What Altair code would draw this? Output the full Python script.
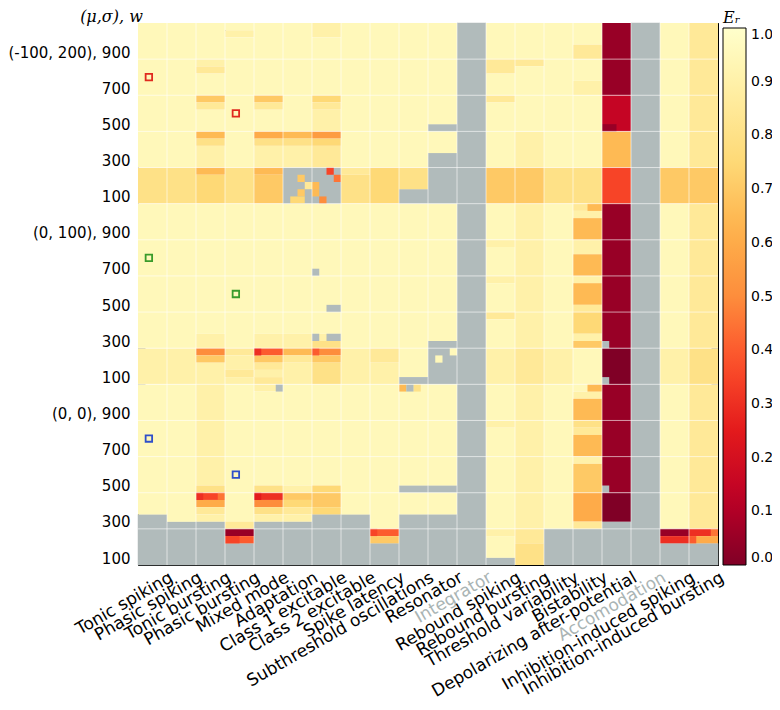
import json
import altair as alt
import pandas as pd

# ---------------- data ----------------
BEHAVIORS = ["Tonic spiking", "Phasic spiking", "Tonic bursting", "Phasic bursting",
             "Mixed mode", "Adaptation", "Class 1 excitable", "Class 2 excitable",
             "Spike latency", "Subthreshold oscillations", "Resonator", "Integrator",
             "Rebound spiking", "Rebound bursting", "Threshold variability", "Bistability",
             "Depolarizing after-potential", "Accomodation", "Inhibition-induced spiking",
             "Inhibition-induced bursting"]
MUTED_BEHAVIORS = ["Integrator", "Accomodation"]
GROUPS = ["(-100, 200)", "(0, 100)", "(0, 0)"]          # top to bottom
W_TICKS = [100, 300, 500, 700, 900]
SUBCOLS = 4      # sub-columns per behaviour
SUBROWS = 25     # sub-rows per (mu, sigma) group

# E_r levels: a=0.00, b=0.05, ... u=1.00 ; '.' = no value (grey)
CODES = "abcdefghijklmnopqrstu"

# one string per behaviour: three groups of 25 sub-rows (top to bottom)
PROFILES = [
    "ttttttttttttttttttttqqqqq|ttttttttttttttttttttsssss|tttttttttttttttttt.......",
    "ttttttttttttttttttttqqqqq|ttttttttttttttttttttsssss|ttttttttttttttttttt......",
    "tttttsrtttortttnqsssnpppp|ttttttttttttttttttsskosss|ssssssssssssssqhmrs......",
    "tsttttttttttttttttttqqqqq|ttttttttttttttttttttrssrs|tttttttttttttttttttrbi...",
    "ttttttttttortttmqsssnoooo|ttttttttttttttttttssiorsr|stttttttttttttqgkqs......",
    "tttttttttttttttnqsss.....|ttttttttttttttttttssnrsss|ttttttttttttttsoprs......",
    "ssttttttttprssslprrr.....|ttttttttttttttttttsqkoqqq|ttttttttttttttpoop.......",
    "ttttttttttttttttttttrqqqq|ttttttttttttttttttttsssss|tttttttttttttttttt.......",
    "ttttttttttttttttttttppppp|ttttttttttttttttttttrrsss|ttttttttttttttttttttio...",
    "ttttttttttttttttttttqqq..|tttttttttttttttttttttttt.|tttttttttttttt.ttt.......",
    "tttttttttttttt.ttt.......|ttttttttttttttttttt......|tttttttttttttt.ttt.......",
    ".........................|.........................|.........................",
    "tttttrrtttrtttttttttooooo|tttttsttttsttttrttttsssss|tttttsttttttttttttttsttt.",
    "tttttrtttttttttsssssooooo|ssssssssssssssssssssrrrrr|ssssssssssssssssssssrrqqq",
    "ttttttttttttttttttttqqqqq|ttttttttttttttttttttsssss|tttttttttttttttttttt.....",
    "tttrrtttssttttttttttqqqqq|rsnnnssnnnsnnnrpppsottttt|tsnnnqrnnnsoooommmmr.....",
    "bbbbbbbbbbdddddnnnnnhhhhh|bbbbbbbbbbbbbbbbbbbbaaaaa|bbbbbbbbbbbbbbbaaaa......",
    ".........................|.........................|.........................",
    "ttttttttttttttttttttooooo|ttttttttttttttttttttsssss|ttttttttttttttttttttbg...",
    "rrrrrrrrrrrrrrrrrrrrooooo|rrrrrrrrrrrrrrrrrrrrqqqqq|rrrrrrrrrrrrrrrrrrrrgm...",
]

# single sub-cells that differ from their row: (behaviour, sub-column, sub-row from top, level)
EXCEPTIONS = [
    (5, 2, 21, "o"), (5, 3, 22, "r"), (5, 2, 23, "o"), (5, 1, 24, "p"), (5, 2, 24, "p"),
    (6, 2, 20, "h"), (6, 3, 21, "j"), (6, 0, 22, "n"), (6, 0, 23, "n"), (6, 1, 24, "k"),
    (6, 0, 34, "."), (6, 2, 39, "."), (6, 3, 39, "."),
    (6, 0, 43, "."), (6, 2, 43, "."), (6, 3, 43, "."), (6, 0, 45, "i"),
    (4, 0, 45, "g"), (4, 3, 50, "."), (4, 0, 65, "f"),
    (2, 0, 65, "g"), (2, 3, 65, "j"),
    (9, 0, 50, "n"), (9, 1, 50, "."), (9, 2, 50, "q"),
    (10, 3, 45, "t"), (10, 1, 46, "t"),
    (15, 2, 25, "n"), (15, 3, 25, "n"), (15, 2, 50, "n"), (15, 3, 50, "n"),
    (16, 0, 14, "b"), (16, 1, 14, "b"), (16, 0, 44, "."), (16, 0, 49, "."), (16, 0, 64, "."),
    (19, 3, 70, "j"), (19, 0, 71, "i"),
    (3, 0, 71, "h"), (3, 1, 71, "h"),
    (8, 0, 70, "h"),
]

# open squares: (colour, behaviour, sub-column, sub-row from top)
MARKERS = [
    ("#e02a1f", 0, 1, 7), ("#e02a1f", 3, 1, 12),
    ("#3a9b2b", 0, 1, 32), ("#3a9b2b", 3, 1, 37),
    ("#2f4fc9", 0, 1, 57), ("#2f4fc9", 3, 1, 62),
]

YLORRD_R = ["#800026", "#bd0026", "#e31a1c", "#fc4e2a", "#fd8d3c",
            "#feb24c", "#fed976", "#ffeda0", "#ffffcc"]
GREY = "#b1bbbb"
MUTED_LABEL = "#a9b4b4"
COLORBAR_TICKS = [0.0, 0.1, 0.2, 0.3, 0.4, 0.5, 0.6, 0.7, 0.8, 0.9, 1.0]

# ---------------- build tables ----------------
NROWS = SUBROWS * len(GROUPS)
NCOLS = SUBCOLS * len(BEHAVIORS)


def level(c):
    return None if c == "." else CODES.index(c) * 0.05


bad = [(i, [len(s) for s in p.split("|")]) for i, p in enumerate(PROFILES)
       if [len(s) for s in p.split("|")] != [SUBROWS] * 3]
assert not bad, bad

base_cells, exc_cells = [], []


def cell(xa, xb, r_top, r_bottom, c, kind):
    # rows r_top..r_bottom (inclusive, counted from the top)
    return dict(x0=xa, x1=xb, y0=NROWS - 1 - r_bottom, y1=NROWS - r_top, v=level(c), kind=kind)


# base: whole-behaviour runs of identical sub-rows
for b, prof in enumerate(PROFILES):
    s = prof.replace("|", "")
    start = 0
    for r in range(1, len(s) + 1):
        if r == len(s) or s[r] != s[start]:
            base_cells.append(cell(b * SUBCOLS, (b + 1) * SUBCOLS, start, r - 1, s[start], "base"))
            start = r

# overlay: differing sub-cells, neighbours of equal level joined
exc = {}
for b, sc, r, c in EXCEPTIONS:
    exc.setdefault((b, r), {})[sc] = c
for (b, r), subs in exc.items():
    scs = sorted(subs)
    i = 0
    while i < len(scs):
        j = i
        while j + 1 < len(scs) and scs[j + 1] == scs[j] + 1 and subs[scs[j + 1]] == subs[scs[i]]:
            j += 1
        exc_cells.append(cell(b * SUBCOLS + scs[i], b * SUBCOLS + scs[j] + 1, r, r,
                              subs[scs[i]], "exc"))
        i = j + 1

df = pd.DataFrame(base_cells + exc_cells)   # base first, overlay drawn after it

marks = pd.DataFrame([dict(col=col, mx=b * SUBCOLS + sc + 0.5, my=NROWS - 1 - r + 0.5)
                      for col, b, sc, r in MARKERS])

X_TICKS = [SUBCOLS * (i + 1) for i in range(len(BEHAVIORS))]
Y_STEP = SUBROWS * 200 // 1000
Y_TICKS = list(range(0, NROWS, Y_STEP))
y_labels = []
for g in reversed(GROUPS):
    for w in W_TICKS:
        y_labels.append(f"{g}, {w}" if w == W_TICKS[-1] else str(w))

x_label_expr = json.dumps(BEHAVIORS) + f"[datum.value/{SUBCOLS}-1]"
y_label_expr = json.dumps(y_labels) + f"[datum.value/{Y_STEP}]"
muted_test = " || ".join(f"datum.value == {SUBCOLS * (BEHAVIORS.index(m) + 1)}"
                         for m in MUTED_BEHAVIORS)

xscale = alt.Scale(domain=[0, NCOLS], nice=False, zero=False)
yscale = alt.Scale(domain=[0, NROWS], nice=False, zero=False)
n = len(YLORRD_R)
cscale = alt.Scale(domain=[i / (n - 1) for i in range(n)], range=YLORRD_R, interpolate="rgb")

x_axis = alt.Axis(values=X_TICKS, labelExpr=x_label_expr, labelAngle=-30, labelAlign="right",
                  labelBaseline="top", labelFontSize=17, labelPadding=4, labelLimit=400,
                  labelOverlap=False, labelFlush=False, tickSize=7, offset=-7, domain=False,
                  grid=False, title=None,
                  labelColor={"condition": {"test": muted_test, "value": MUTED_LABEL},
                              "value": "black"})
y_axis = alt.Axis(values=Y_TICKS, labelExpr=y_label_expr, labelFontSize=15,
                  labelBaseline="alphabetic", labelOffset=-2, labelPadding=8,
                  labelLimit=300, labelOverlap=False, labelFlush=False, tickSize=7,
                  offset=-7, domain=False, grid=False,
                  title="(μ,σ), w", titleAngle=0, titleX=-34, titleY=-2,
                  titleAlign="center", titleBaseline="alphabetic", titleFont="DejaVu Serif",
                  titleFontStyle="italic", titleFontSize=16, titleFontWeight="normal",
                  titleColor="black")

valid = "isValid(datum.v)"

grey_base = alt.Chart(df).transform_filter(f"!{valid} && datum.kind == 'base'").mark_rect(
    color=GREY, stroke=GREY, strokeWidth=0.5).encode(
    x=alt.X("x0:Q", scale=xscale, axis=None), x2="x1:Q",
    y=alt.Y("y0:Q", scale=yscale, axis=None), y2="y1:Q",
)

heat = alt.Chart(df).transform_filter(valid).mark_rect().encode(
    x=alt.X("x0:Q", scale=xscale, axis=x_axis),
    x2="x1:Q",
    y=alt.Y("y0:Q", scale=yscale, axis=y_axis),
    y2="y1:Q",
    color=alt.Color("v:Q", scale=cscale, legend=alt.Legend(
        title="Eᵣ", orient="none", legendX=585, legendY=-13,
        direction="vertical", gradientLength=537, gradientThickness=23,
        values=COLORBAR_TICKS, format=".1f",
        labelFontSize=14, labelFont="DejaVu Sans", labelOffset=5, labelColor="black",
        labelBaseline="middle",
        titleFont="DejaVu Serif", titleFontStyle="italic", titleFontWeight="normal",
        titleFontSize=16, titlePadding=2, titleColor="black",
        gradientStrokeColor="black", gradientStrokeWidth=1)),
)

grey_exc = alt.Chart(df).transform_filter(f"!{valid} && datum.kind == 'exc'").mark_rect(
    color=GREY).encode(
    x=alt.X("x0:Q", scale=xscale, axis=None), x2="x1:Q",
    y=alt.Y("y0:Q", scale=yscale, axis=None), y2="y1:Q",
)

vgrid = alt.Chart(pd.DataFrame({"t": X_TICKS[:-1]})).mark_rule(
    color="white", opacity=0.6, strokeWidth=1).encode(
    x=alt.X("t:Q", scale=xscale, axis=alt.Axis(orient="top", values=X_TICKS, labels=False,
                                                tickSize=7, offset=-7, domain=False,
                                                grid=False, title=None)))
hgrid = alt.Chart(pd.DataFrame({"t": Y_TICKS[1:]})).mark_rule(
    color="white", opacity=0.6, strokeWidth=1).encode(
    y=alt.Y("t:Q", scale=yscale, axis=alt.Axis(orient="right", values=Y_TICKS, labels=False,
                                                tickSize=7, offset=-7, domain=False,
                                                grid=False, title=None)))

marker_layers = []
for col in dict.fromkeys(marks["col"]):
    marker_layers.append(
        alt.Chart(marks[marks["col"] == col]).mark_square(
            filled=False, size=42, strokeWidth=1.8, color=col, opacity=1).encode(
            x=alt.X("mx:Q", scale=xscale, axis=None),
            y=alt.Y("my:Q", scale=yscale, axis=None)))

chart = alt.layer(grey_base, heat, grey_exc, vgrid, hgrid, *marker_layers).resolve_axis(
    x="independent", y="independent"
).properties(
    width=580, height=542,
    autosize=alt.AutoSizeParams(type="none"),
    padding={"left": 130, "top": 15, "right": 54, "bottom": 137},
).configure_view(stroke="black", strokeWidth=1).configure_axis(
    tickColor="black", labelFont="DejaVu Sans", tickWidth=1
)

chart.save("out.html", embed_options={"renderer": "svg", "actions": False})
